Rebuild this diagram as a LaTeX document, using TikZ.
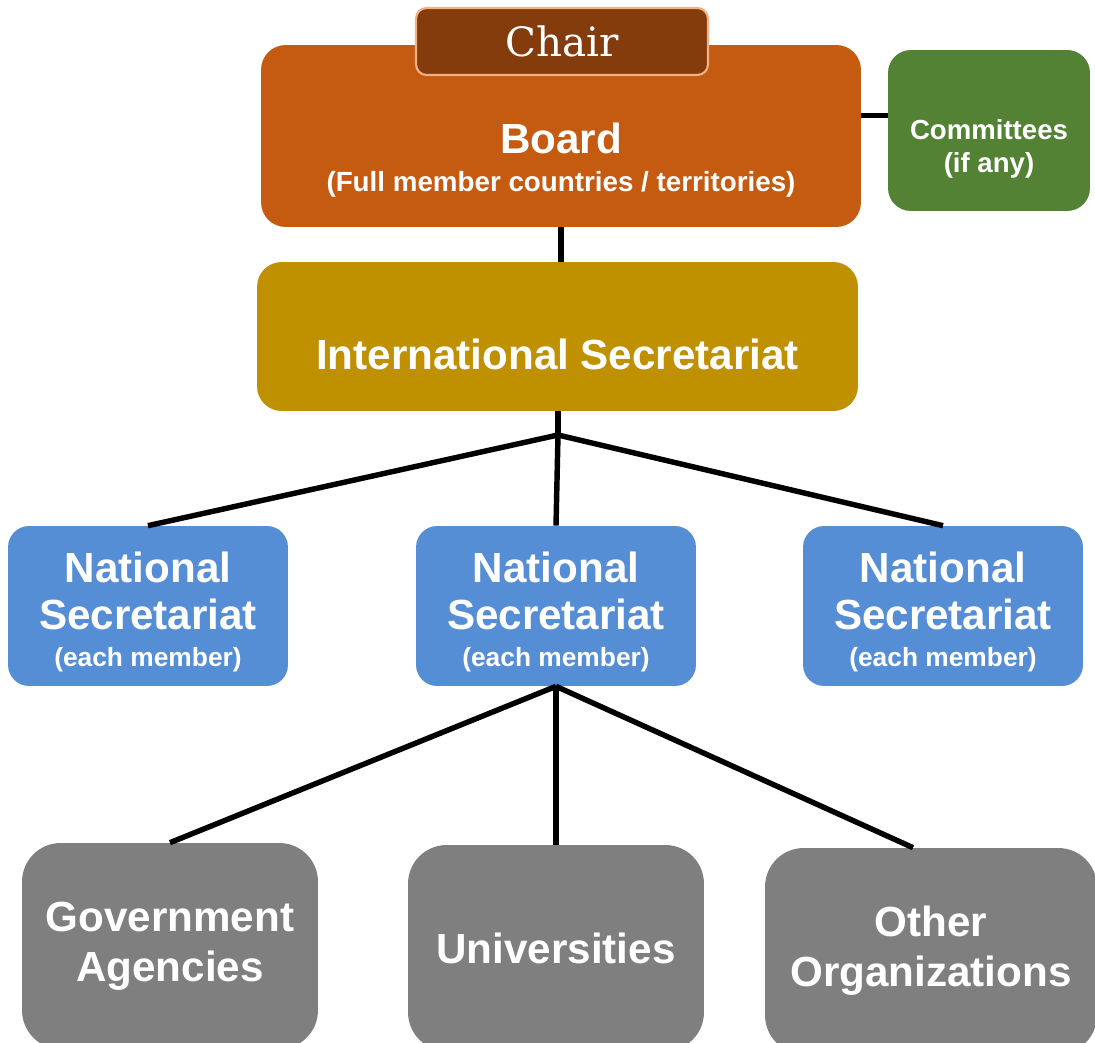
\documentclass[tikz,border=0pt]{standalone}
\usepackage{fontspec}
\setsansfont{Liberation Sans}
\newfontfamily\chairfont{DejaVu Serif}
\usepackage{tikz}
\usetikzlibrary{calc,positioning}

\definecolor{chairbrown}{HTML}{843C0C}
\definecolor{chairedge}{HTML}{F4B183}
\definecolor{boardorange}{HTML}{C55A11}
\definecolor{commgreen}{HTML}{548235}
\definecolor{isgold}{HTML}{BF9000}
\definecolor{nsblue}{HTML}{558ED5}
\definecolor{orggray}{HTML}{7F7F7F}

\tikzset{
  box/.style={rectangle, inner sep=0pt, align=center, text=white, font=\sffamily\bfseries},
  bigfont/.style={font=\sffamily\bfseries\fontsize{24}{27}\selectfont},
  nsbox/.style={box, fill=nsblue, rounded corners=12pt, minimum width=5.6cm, minimum height=3.2cm, bigfont},
  orgbox/.style={box, fill=orggray, rounded corners=22pt, minimum width=5.92cm, minimum height=4.12cm,
    font=\sffamily\bfseries\fontsize{24}{28.3}\selectfont},
  link/.style={line width=3.1pt, black}
}

\begin{document}
\begin{tikzpicture}[x=0.02cm, y=-0.02cm]
\clip (0,0) rectangle (1095,1043);

%Board and chair
\node[box, fill=boardorange, rounded corners=14pt, minimum width=12cm, minimum height=3.64cm] (board) at (561,136) {};
\node[box, font=\sffamily\bfseries\fontsize{15.8}{21.5}\selectfont] (boardtext) at (561,160)
 {{\fontsize{24}{21.5}\selectfont Board}\\(Full member countries / territories)};
\node[box, fill=chairbrown, draw=chairedge, line width=1.2pt, rounded corners=6pt, minimum width=5.84cm, minimum height=1.34cm,
 font=\chairfont\fontsize{23}{23}\selectfont] (chair) at (562,41.5) {Chair};

%Committees
\node[box, fill=commgreen, rounded corners=13pt, minimum width=4.04cm, minimum height=3.22cm] (comm) at (989,130.5) {};
\node[box, font=\sffamily\bfseries\fontsize{15.7}{18.7}\selectfont] (commtext) at (989,149) {Committees\\(if any)};

%International secretariat
\node[box, fill=isgold, rounded corners=14pt, minimum width=12.02cm, minimum height=2.98cm, bigfont,
 text height=38pt, text depth=0pt] (is) at (557.5,336.5) {International Secretariat};

%National secretariats
\node[nsbox] (ns1) at (148,606)
 {\rule{0pt}{24pt}National\\Secretariat\\[-6pt]{\fontsize{15}{18}\selectfont (each member)}};
\node[nsbox] (ns2) at (556,606)
 {\rule{0pt}{24pt}National\\Secretariat\\[-6pt]{\fontsize{15}{18}\selectfont (each member)}};
\node[nsbox] (ns3) at (943,606)
 {\rule{0pt}{24pt}National\\Secretariat\\[-6pt]{\fontsize{15}{18}\selectfont (each member)}};

%Organizations
\node[orgbox] (gov) at (170,946) {Government\\Agencies};
\node[orgbox] (univ) at (556,948) {Universities};
\node[orgbox, minimum width=6.64cm] (other) at (931,951) {Other\\Organizations};

%Lines
\coordinate (split) at (558,435);
\draw[link] (board.south) -- (board.south |- is.north);
\draw[link] ([yshift=0.3cm]comm.west) -- ([yshift=0.3cm]comm.west -| board.east);
\draw[link] (is.south -| split) -- (split);
\draw[link] (split) -- (ns1.north);
\draw[link] (split) -- (ns2.north);
\draw[link] (split) -- (ns3.north);
\draw[link] (ns2.south) -- (gov.north);
\draw[link] (ns2.south) -- (univ.north);
\draw[link] (ns2.south) -- ([xshift=-0.36cm]other.north);

\end{tikzpicture}
\end{document}
